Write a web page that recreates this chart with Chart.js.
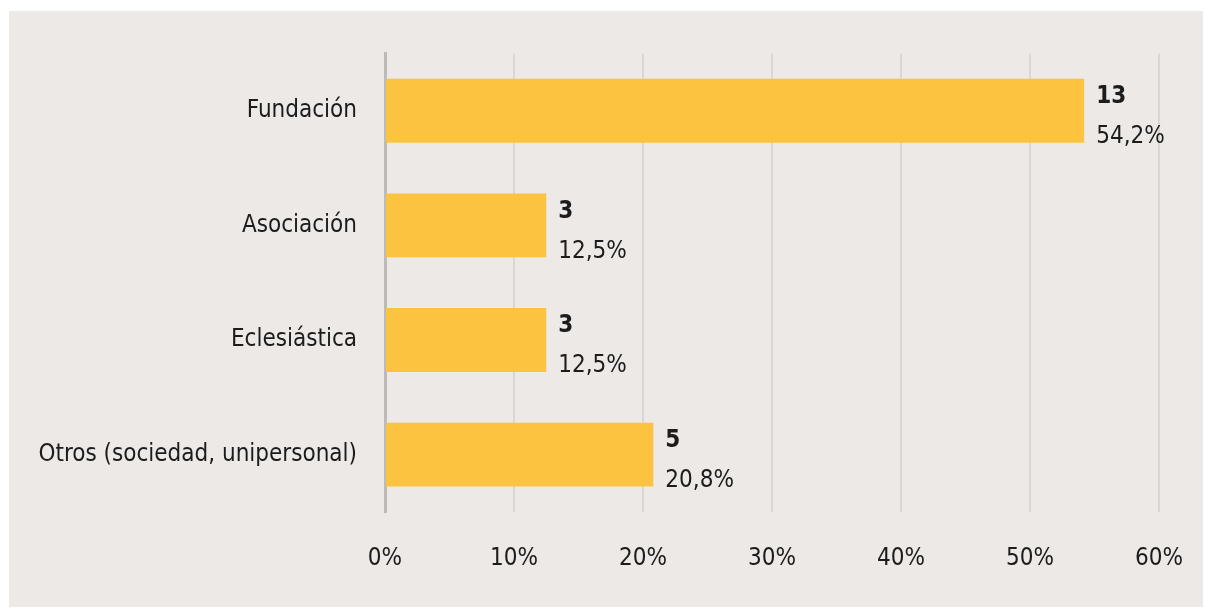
<!DOCTYPE html>
<html>
<head>
<meta charset="utf-8">
<script src="https://cdn.jsdelivr.net/npm/chart.js@4/dist/chart.umd.min.js"></script>
<style>
  html, body { margin: 0; padding: 0; background: #ffffff; }
  #panel { position: absolute; left: 9px; top: 11px; width: 1194px; height: 596px; background: #ece9e6; }
</style>
</head>
<body>
<div id="panel"><canvas id="chart" width="1194" height="596"></canvas></div>
<script>
// ===========================
// Data
// ===========================
const categories = ["Fundación", "Asociación", "Eclesiástica", "Otros (sociedad, unipersonal)"];
const counts = [13, 3, 3, 5];
const percents = [54.2, 12.5, 12.5, 20.8];
const xTicks = [0, 10, 20, 30, 40, 50, 60];

const FONT = "'Liberation Sans Narrow', 'DejaVu Sans Condensed', sans-serif";
const TEXT = "#1c1c1c";

// count + percent labels next to each bar
const barLabels = {
    id: "barLabels",
    afterDatasetsDraw(chart) {
        const ctx = chart.ctx;
        const meta = chart.getDatasetMeta(0);
        ctx.save();
        ctx.fillStyle = TEXT;
        ctx.textAlign = "left";
        ctx.textBaseline = "middle";
        meta.data.forEach((bar, i) => {
            const x = bar.x + 12;
            ctx.font = "bold 24px " + FONT;
            ctx.fillText(String(counts[i]), x, bar.y - 14);
            ctx.font = "24px " + FONT;
            ctx.fillText(percents[i].toFixed(1).replace(".", ",") + "%", x, bar.y + 26);
        });
        ctx.restore();
    }
};

const ctx = document.getElementById("chart").getContext("2d");
new Chart(ctx, {
    type: "bar",
    data: {
        labels: categories,
        datasets: [{
            data: percents,
            backgroundColor: "#fbc33f",
            categoryPercentage: 1,
            barPercentage: 0.557
        }]
    },
    options: {
        indexAxis: "y",
        responsive: false,
        animation: false,
        layout: { padding: { top: 41, right: 44, bottom: 0, left: 0 } },
        plugins: { legend: { display: false }, tooltip: { enabled: false } },
        scales: {
            x: {
                min: 0,
                max: 60,
                afterBuildTicks(scale) { scale.ticks = xTicks.map(v => ({ value: v })); },
                afterFit(scale) {
                    scale.height = 95;
                    scale.paddingLeft = 0;
                    scale.paddingRight = 0;
                },
                border: { display: false },
                grid: { color: "#d9d6d3", lineWidth: 2, drawTicks: false },
                ticks: {
                    padding: 32,
                    color: TEXT,
                    font: { family: FONT, size: 24 },
                    callback: v => v + "%"
                }
            },
            y: {
                afterFit(scale) { scale.width = 376; },
                border: { display: true, color: "#bdbbb9", width: 3 },
                grid: { display: false, drawTicks: false },
                ticks: {
                    padding: 28,
                    color: TEXT,
                    font: { family: FONT, size: 24 }
                }
            }
        }
    },
    plugins: [barLabels]
});
</script>
</body>
</html>
